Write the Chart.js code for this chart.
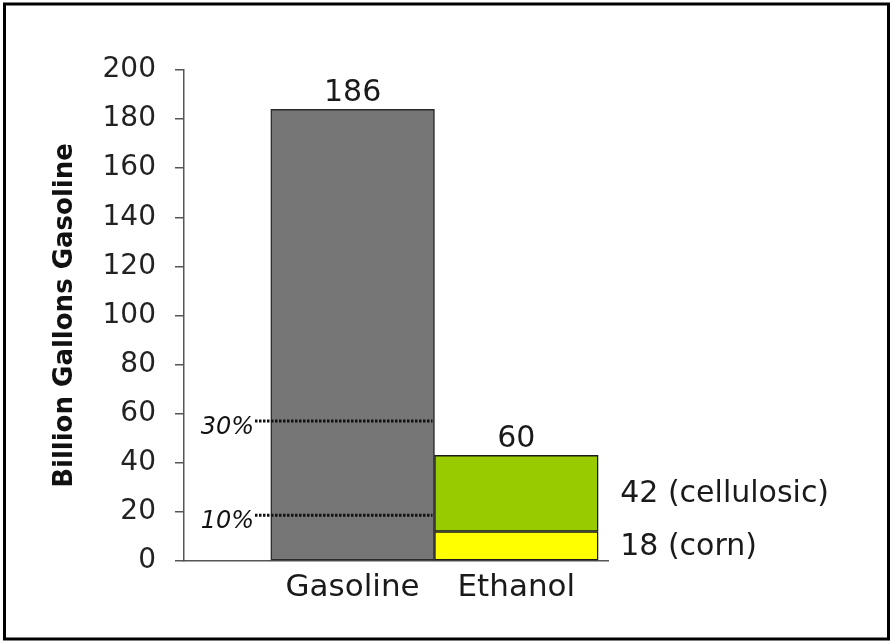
<!DOCTYPE html>
<html lang="en">
<head>
    <meta charset="UTF-8">
    <script src="https://cdn.jsdelivr.net/npm/chart.js"></script>
    <title>Gasoline vs Ethanol</title>
</head>
<style>
    body {
        margin: 0;
        background: #fff;
    }

    .chart-container {
        width: 893px;
        height: 641px;
        position: relative;
    }
</style>
<body>
<div class="chart-container">
    <canvas id="fuel-chart"></canvas>
</div>

<script>
    // values as drawn (billion gallons, gasoline equivalent)
    const categories = ['Gasoline', 'Ethanol'];
    const gasolineUse = [184, null];
    const cornEthanol = [null, 12];
    const cellulosicEthanol = [null, 31];

    // printed labels
    const totalLabels = ['186', '60'];
    const partLabels = ['18 (corn)', '42 (cellulosic)'];
    const blendLabels = ['10%', '30%'];
    const blendLevels = [18.6, 57];

    const yMin = 0, yMax = 200, yStep = 20;

    const FONT = '"DejaVu Sans", sans-serif';

    function toPoints(values) {
        return values
            .map((v, i) => ({ x: i + 1, y: v }))
            .filter(p => p.y !== null);
    }

    const annotate = {
        id: 'annotate',
        afterDatasetsDraw(chart) {
            const { ctx, chartArea, scales: { y } } = chart;
            ctx.save();

            // dotted blend-level lines across the gasoline bar
            const gasBar = chart.getDatasetMeta(0).data[0];
            const lineStart = chartArea.left + 71;
            const lineEnd = gasBar.x + gasBar.width / 2 - 2;
            ctx.strokeStyle = '#111';
            ctx.lineWidth = 3;
            ctx.setLineDash([2.5, 1.5]);
            ctx.font = 'italic 24px ' + FONT;
            ctx.fillStyle = '#111';
            ctx.textAlign = 'right';
            ctx.textBaseline = 'alphabetic';
            blendLevels.forEach((v, i) => {
                const py = y.getPixelForValue(v);
                ctx.beginPath();
                ctx.moveTo(lineStart, py);
                ctx.lineTo(lineEnd, py);
                ctx.stroke();
                ctx.fillText(blendLabels[i], lineStart - 1, py + 13);
            });
            ctx.setLineDash([]);

            // totals above each bar
            const tops = [];
            const centers = [];
            chart.data.datasets.forEach((ds, di) => {
                const meta = chart.getDatasetMeta(di);
                ds.data.forEach((pt, j) => {
                    const el = meta.data[j];
                    const k = pt.x - 1;
                    tops[k] = Math.min(tops[k] === undefined ? Infinity : tops[k], el.y);
                    centers[k] = el.x;
                });
            });
            ctx.font = '30px ' + FONT;
            ctx.textAlign = 'center';
            ctx.fillStyle = '#1a1a1a';
            tops.forEach((t, k) => {
                ctx.fillText(totalLabels[k], centers[k], t - 8);
            });

            // ethanol part labels to the right
            ctx.textAlign = 'left';
            [1, 2].forEach((di, i) => {
                const el = chart.getDatasetMeta(di).data[0];
                const mid = (el.y + el.base) / 2;
                ctx.fillText(partLabels[i], el.x + el.width / 2 + 22, mid + 9);
            });
            ctx.restore();
        },
        afterDraw(chart) {
            const { ctx } = chart;
            ctx.save();
            ctx.strokeStyle = '#000';
            ctx.lineWidth = 3;
            ctx.strokeRect(4.5, 4, 884, 635);
            ctx.restore();
        }
    };

    new Chart(document.getElementById('fuel-chart'), {
        type: 'bar',
        data: {
            datasets: [{
                label: 'Gasoline',
                data: toPoints(gasolineUse),
                backgroundColor: '#767676',
                borderColor: '#2a2a2a'
            }, {
                label: 'Corn ethanol',
                data: toPoints(cornEthanol),
                backgroundColor: '#ffff00',
                borderColor: '#1a1a1a'
            }, {
                label: 'Cellulosic ethanol',
                data: toPoints(cellulosicEthanol),
                backgroundColor: '#99cc00',
                borderColor: '#1a1a1a'
            }]
        },
        options: {
            responsive: true,
            maintainAspectRatio: false,
            animation: false,
            datasets: {
                bar: {
                    borderWidth: 1.5,
                    borderSkipped: false,
                    barPercentage: 1,
                    categoryPercentage: 1
                }
            },
            layout: {
                padding: { left: 0, top: 70, right: 285, bottom: 0 }
            },
            plugins: {
                legend: { display: false },
                tooltip: { enabled: false }
            },
            scales: {
                x: {
                    type: 'linear',
                    stacked: true,
                    offset: false,
                    min: -0.03,
                    max: 2.56,
                    afterBuildTicks: (scale) => {
                        scale.ticks = categories.map((c, i) => ({ value: i + 1 }));
                    },
                    afterFit: (scale) => { scale.height = 80; },
                    grid: { display: false, drawTicks: false, offset: false },
                    border: { display: true, color: '#555', width: 1.5 },
                    ticks: {
                        autoSkip: false,
                        maxRotation: 0,
                        padding: 8,
                        color: '#1a1a1a',
                        font: { family: FONT, size: 31 },
                        callback: (v) => categories[Math.round(v) - 1]
                    }
                },
                y: {
                    stacked: true,
                    min: yMin,
                    max: yMax,
                    afterFit: (scale) => { scale.width = 184; },
                    grid: {
                        drawOnChartArea: false,
                        tickLength: 9,
                        color: '#555',
                        lineWidth: 1.5
                    },
                    border: { display: true, color: '#555', width: 1.5 },
                    ticks: {
                        stepSize: yStep,
                        padding: 19,
                        color: '#222',
                        font: { family: FONT, size: 28 }
                    },
                    title: {
                        display: true,
                        text: 'Billion Gallons Gasoline',
                        color: '#111',
                        font: { family: FONT, size: 26, weight: 'bold' },
                        padding: { top: 50, bottom: 0 }
                    }
                }
            }
        },
        plugins: [annotate]
    });
</script>
</body>
</html>
